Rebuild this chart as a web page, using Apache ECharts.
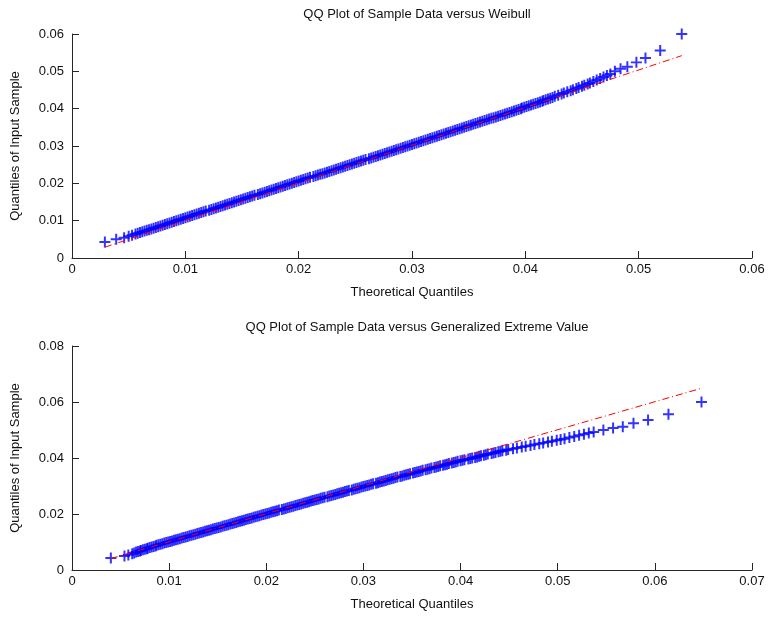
<!DOCTYPE html>
<html>
<head>
<meta charset="utf-8">
<script src="https://cdn.jsdelivr.net/npm/echarts@6/dist/echarts.min.js"></script>
<style>
html,body{margin:0;padding:0;background:#fff;}
#chart{width:769px;height:617px;}
</style>
</head>
<body>
<div id="chart"></div>
<script>
// Sorted sample quantiles (y values, shared by both plots)
const sampleQ = [
  0.0043, 0.0050, 0.0054, 0.0058, 0.0061, 0.0064, 0.0066, 0.0068, 0.0070, 0.0072,
  0.0074, 0.0076, 0.0078, 0.0080, 0.0082, 0.0084, 0.0086, 0.0088, 0.0090, 0.0092,
  0.0094, 0.0096, 0.0098, 0.0100, 0.0102,
  0.0104, 0.0106, 0.0108, 0.0110, 0.0112, 0.0114, 0.0116, 0.0118, 0.0120, 0.0122,
  0.0124, 0.0126, 0.0128, 0.0130, 0.0132, 0.0134, 0.0136, 0.0138, 0.0140, 0.0142,
  0.0144, 0.0146, 0.0148, 0.0150, 0.0152, 0.0154, 0.0156, 0.0158, 0.0160, 0.0162,
  0.0164, 0.0166, 0.0168, 0.0170, 0.0172, 0.0174, 0.0176, 0.0178, 0.0180, 0.0182,
  0.0184, 0.0186, 0.0188, 0.0190, 0.0192, 0.0194, 0.0196, 0.0198, 0.0200, 0.0202,
  0.0204, 0.0206, 0.0208, 0.0210, 0.0212, 0.0214, 0.0216, 0.0218, 0.0220, 0.0222,
  0.0224, 0.0226, 0.0228, 0.0230, 0.0232, 0.0234, 0.0236, 0.0238, 0.0240, 0.0242,
  0.0244, 0.0246, 0.0248, 0.0250, 0.0252, 0.0254, 0.0256, 0.0258, 0.0260, 0.0262,
  0.0264, 0.0266, 0.0268, 0.0270, 0.0272, 0.0274, 0.0276, 0.0278, 0.0280, 0.0282,
  0.0284, 0.0286, 0.0288, 0.0290, 0.0292, 0.0294, 0.0296, 0.0298, 0.0300, 0.0302,
  0.0304, 0.0306, 0.0308, 0.0310, 0.0312, 0.0314, 0.0316, 0.0318, 0.0320, 0.0322,
  0.0324, 0.0326, 0.0328, 0.0330, 0.0332, 0.0334, 0.0336, 0.0338, 0.0340, 0.0342,
  0.0344, 0.0346, 0.0348, 0.0350, 0.0352, 0.0354, 0.0356, 0.0358, 0.0360, 0.0362,
  0.0364, 0.0366, 0.0368, 0.0370, 0.0372, 0.0374, 0.0376, 0.0378, 0.0380, 0.0382,
  0.0384, 0.0386, 0.0388, 0.0390, 0.0392, 0.0394, 0.0396, 0.0398, 0.0400, 0.0402,
  0.0404, 0.0406, 0.0408, 0.0410, 0.0412, 0.0414, 0.0416, 0.0418, 0.0420, 0.0422,
  0.0424, 0.0426, 0.0428, 0.0430,
  0.0433, 0.0436, 0.0439, 0.0442, 0.0445, 0.0448, 0.0451, 0.0454, 0.0457, 0.0460,
  0.0463, 0.0466, 0.0469, 0.0473, 0.0477, 0.0481, 0.0485, 0.0489, 0.0493, 0.0500,
  0.0507, 0.0512, 0.0524, 0.0536, 0.0556, 0.0600
];
// Theoretical Weibull quantiles (x values, top plot)
const weibullQ = [
  0.0029, 0.0039, 0.0046, 0.0050, 0.0053, 0.0056, 0.0058, 0.0060, 0.0062, 0.0064,
  0.0066, 0.0068, 0.0070, 0.0072, 0.0074, 0.0076, 0.0078, 0.0080, 0.0082, 0.0084,
  0.0086, 0.0088, 0.0090, 0.0092, 0.0094,
  0.0096, 0.0098, 0.0100, 0.0102, 0.0104, 0.0106, 0.0108, 0.0110, 0.0112, 0.0114,
  0.0116, 0.0118, 0.0121, 0.0123, 0.0125, 0.0127, 0.0129, 0.0131, 0.0133, 0.0135,
  0.0137, 0.0139, 0.0141, 0.0143, 0.0145, 0.0147, 0.0149, 0.0151, 0.0153, 0.0155,
  0.0157, 0.0159, 0.0161, 0.0164, 0.0166, 0.0168, 0.0170, 0.0172, 0.0174, 0.0176,
  0.0178, 0.0180, 0.0182, 0.0184, 0.0186, 0.0188, 0.0190, 0.0192, 0.0194, 0.0196,
  0.0198, 0.0200, 0.0202, 0.0204, 0.0206, 0.0208, 0.0210, 0.0213, 0.0215, 0.0217,
  0.0219, 0.0221, 0.0223, 0.0225, 0.0227, 0.0229, 0.0231, 0.0233, 0.0235, 0.0237,
  0.0239, 0.0241, 0.0243, 0.0245, 0.0247, 0.0249, 0.0251, 0.0253, 0.0255, 0.0257,
  0.0259, 0.0262, 0.0264, 0.0266, 0.0268, 0.0270, 0.0272, 0.0274, 0.0276, 0.0278,
  0.0280, 0.0282, 0.0284, 0.0286, 0.0288, 0.0290, 0.0292, 0.0294, 0.0296, 0.0298,
  0.0300, 0.0302, 0.0304, 0.0306, 0.0308, 0.0310, 0.0312, 0.0314, 0.0316, 0.0318,
  0.0320, 0.0322, 0.0324, 0.0326, 0.0328, 0.0330, 0.0332, 0.0334, 0.0336, 0.0338,
  0.0340, 0.0342, 0.0344, 0.0346, 0.0348, 0.0350, 0.0352, 0.0354, 0.0356, 0.0358,
  0.0360, 0.0362, 0.0364, 0.0366, 0.0368, 0.0370, 0.0372, 0.0374, 0.0376, 0.0378,
  0.0380, 0.0382, 0.0384, 0.0386, 0.0388, 0.0390, 0.0392, 0.0394, 0.0396, 0.0397,
  0.0399, 0.0401, 0.0403, 0.0405, 0.0407, 0.0409, 0.0411, 0.0413, 0.0415, 0.0416,
  0.0418, 0.0420, 0.0422, 0.0424,
  0.0426, 0.0429, 0.0432, 0.0434, 0.0437, 0.0440, 0.0442, 0.0445, 0.0447, 0.0450,
  0.0452, 0.0455, 0.0457, 0.0460, 0.0463, 0.0466, 0.0469, 0.0472, 0.0475, 0.0479,
  0.0484, 0.0490, 0.0498, 0.0506, 0.0519, 0.0538
];
// Theoretical GEV quantiles (x values, bottom plot)
const gevQ = [
  0.0040, 0.0054, 0.0058, 0.0062, 0.0064, 0.0066, 0.0068, 0.0070, 0.0071, 0.0073,
  0.0075, 0.0077, 0.0078, 0.0080, 0.0082, 0.0084, 0.0086, 0.0087, 0.0089, 0.0091,
  0.0093, 0.0095, 0.0097, 0.0099, 0.0101,
  0.0103, 0.0105, 0.0107, 0.0109, 0.0111, 0.0113, 0.0115, 0.0117, 0.0119, 0.0121,
  0.0123, 0.0125, 0.0127, 0.0129, 0.0131, 0.0133, 0.0135, 0.0137, 0.0139, 0.0141,
  0.0143, 0.0145, 0.0147, 0.0149, 0.0151, 0.0153, 0.0155, 0.0157, 0.0159, 0.0161,
  0.0163, 0.0165, 0.0167, 0.0169, 0.0171, 0.0173, 0.0175, 0.0177, 0.0179, 0.0181,
  0.0183, 0.0185, 0.0187, 0.0189, 0.0191, 0.0193, 0.0195, 0.0197, 0.0199, 0.0201,
  0.0203, 0.0205, 0.0207, 0.0209, 0.0211, 0.0213, 0.0216, 0.0218, 0.0220, 0.0222,
  0.0224, 0.0226, 0.0228, 0.0230, 0.0232, 0.0234, 0.0236, 0.0238, 0.0240, 0.0242,
  0.0244, 0.0246, 0.0248, 0.0250, 0.0252, 0.0254, 0.0256, 0.0258, 0.0260, 0.0263,
  0.0265, 0.0267, 0.0269, 0.0271, 0.0273, 0.0275, 0.0277, 0.0279, 0.0281, 0.0283,
  0.0285, 0.0288, 0.0290, 0.0292, 0.0294, 0.0296, 0.0298, 0.0300, 0.0302, 0.0304,
  0.0306, 0.0308, 0.0310, 0.0313, 0.0315, 0.0317, 0.0319, 0.0321, 0.0323, 0.0325,
  0.0327, 0.0329, 0.0331, 0.0333, 0.0335, 0.0338, 0.0340, 0.0342, 0.0344, 0.0346,
  0.0348, 0.0351, 0.0353, 0.0355, 0.0357, 0.0359, 0.0361, 0.0364, 0.0366, 0.0368,
  0.0370, 0.0373, 0.0375, 0.0377, 0.0379, 0.0382, 0.0384, 0.0386, 0.0388, 0.0391,
  0.0393, 0.0395, 0.0397, 0.0400, 0.0402, 0.0404, 0.0408, 0.0410, 0.0412, 0.0415,
  0.0417, 0.0419, 0.0421, 0.0424, 0.0426, 0.0428, 0.0432, 0.0434, 0.0436, 0.0439,
  0.0441, 0.0443, 0.0447, 0.0449,
  0.0454, 0.0458, 0.0463, 0.0467, 0.0472, 0.0476, 0.0481, 0.0485, 0.0490, 0.0494,
  0.0499, 0.0503, 0.0507, 0.0512, 0.0517, 0.0522, 0.0527, 0.0532, 0.0537, 0.0547,
  0.0557, 0.0567, 0.0578, 0.0593, 0.0614, 0.0648
];
// Reference lines (end points)
const weibullLineX = [0.0029, 0.0538];
const weibullLineY = [0.0029, 0.0542];
const gevLineX = [0.0040, 0.0648];
const gevLineY = [0.0041, 0.0649];

const titles = ['QQ Plot of Sample Data versus Weibull', 'QQ Plot of Sample Data versus Generalized Extreme Value'];
const xName = 'Theoretical Quantiles';
const yName = 'Quantiles of Input Sample';

const FONT = 'Liberation Sans, Arial, sans-serif';
const AX = '#262626';
const plus = 'path://M0,4.1 L10,4.1 L10,5.9 L0,5.9 Z M4.1,0 L5.9,0 L5.9,10 L4.1,10 Z';
const fmt = v => v === 0 ? '0' : v.toFixed(2);

function axisCommon(name, isY, max, interval) {
  return {
    type: 'value', min: 0, max: max, interval: interval,
    name: name, nameLocation: 'middle', nameGap: isY ? 50 : 28,
    nameTextStyle: { fontFamily: FONT, fontSize: 13, color: '#111' },
    axisLine: { show: true, onZero: false, lineStyle: { color: AX, width: 1 } },
    axisTick: { show: true, inside: true, length: 7, lineStyle: { color: AX } },
    axisLabel: { fontFamily: FONT, fontSize: 13, color: '#111', margin: isY ? 8 : 5, formatter: fmt },
    splitLine: { show: false }
  };
}

const chart = echarts.init(document.getElementById('chart'));
chart.setOption({
  animation: false,
  backgroundColor: '#fff',
  title: [
    { text: titles[0], left: 412, top: 3, textAlign: 'center',
      textStyle: { fontFamily: FONT, fontSize: 13, fontWeight: 'normal', color: '#111' } },
    { text: titles[1], left: 412, top: 316, textAlign: 'center',
      textStyle: { fontFamily: FONT, fontSize: 13, fontWeight: 'normal', color: '#111' } }
  ],
  grid: [
    { left: 72, right: 17, top: 34, height: 224 },
    { left: 72, right: 17, top: 346, height: 224 }
  ],
  xAxis: [
    Object.assign(axisCommon(xName, false, 0.06, 0.01), { gridIndex: 0 }),
    Object.assign(axisCommon(xName, false, 0.07, 0.01), { gridIndex: 1 })
  ],
  yAxis: [
    Object.assign(axisCommon(yName, true, 0.06, 0.01), { gridIndex: 0 }),
    Object.assign(axisCommon(yName, true, 0.08, 0.02), { gridIndex: 1 })
  ],
  series: [
    { type: 'scatter', xAxisIndex: 0, yAxisIndex: 0, symbol: plus, symbolSize: 11,
      itemStyle: { color: '#0000ff' }, z: 2, clip: false,
      data: weibullQ.map((x, i) => [x, sampleQ[i]]) },
    { type: 'line', xAxisIndex: 0, yAxisIndex: 0, showSymbol: false, z: 3,
      lineStyle: { color: '#ff0000', width: 1, type: [7, 3, 1, 3] },
      data: weibullLineX.map((x, i) => [x, weibullLineY[i]]) },
    { type: 'scatter', xAxisIndex: 1, yAxisIndex: 1, symbol: plus, symbolSize: 11,
      itemStyle: { color: '#0000ff' }, z: 2, clip: false,
      data: gevQ.map((x, i) => [x, sampleQ[i]]) },
    { type: 'line', xAxisIndex: 1, yAxisIndex: 1, showSymbol: false, z: 3,
      lineStyle: { color: '#ff0000', width: 1, type: [7, 3, 1, 3] },
      data: gevLineX.map((x, i) => [x, gevLineY[i]]) }
  ]
});
</script>
</body>
</html>
